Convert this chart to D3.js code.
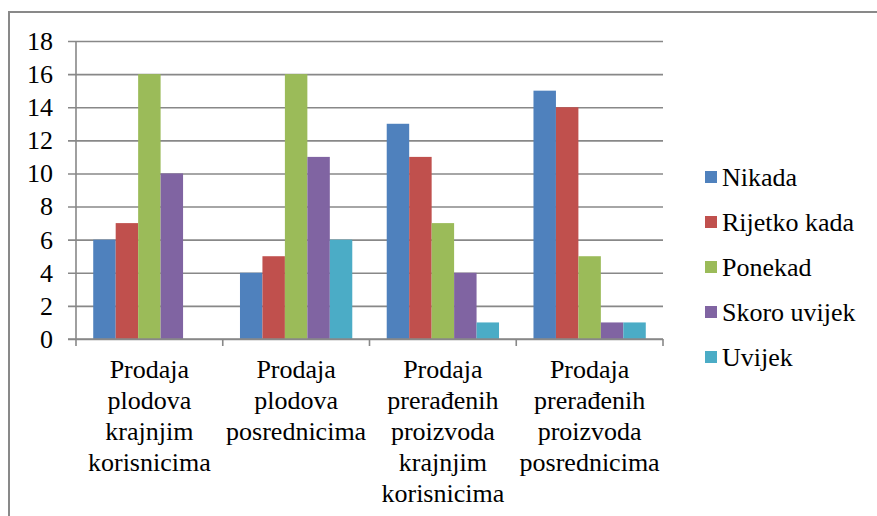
<!DOCTYPE html>
<html>
<head>
<meta charset="utf-8">
<script src="https://cdnjs.cloudflare.com/ajax/libs/d3/7.8.5/d3.min.js"></script>
<style>
  @font-face { font-family: "ChartSerif"; src: local("Liberation Serif"), local("LiberationSerif"), local("LiberationSerif-Regular"), local("Times New Roman"), local("Tinos"); }
  svg text { font-family: "Liberation Serif", "ChartSerif" !important; }
</style>
</head>
<body style="margin:0">
<svg id="chart" width="877" height="516" style="display:block;background:#fff"></svg>
<script>
const categories = [
  ["Prodaja", "plodova", "krajnjim", "korisnicima"],
  ["Prodaja", "plodova", "posrednicima"],
  ["Prodaja", "prerađenih", "proizvoda", "krajnjim", "korisnicima"],
  ["Prodaja", "prerađenih", "proizvoda", "posrednicima"]
];
const seriesNames = ["Nikada", "Rijetko kada", "Ponekad", "Skoro uvijek", "Uvijek"];
const seriesColors = ["#4F81BD", "#C0504D", "#9BBB59", "#8064A2", "#4BACC6"];
const nikada = [6, 4, 13, 15];
const rijetkoKada = [7, 5, 11, 14];
const ponekad = [16, 16, 7, 5];
const skoroUvijek = [10, 11, 4, 1];
const uvijek = [0, 6, 1, 1];
const yTicks = [0, 2, 4, 6, 8, 10, 12, 14, 16, 18];

const seriesValues = [nikada, rijetkoKada, ponekad, skoroUvijek, uvijek];
const catKeys = categories.map((c, i) => "c" + i);

const svg = d3.select("#chart");
const FONT = 26;

function serif(sel) {
  return sel.style("font-family", '"Liberation Serif"').attr("font-size", FONT).attr("fill", "#000");
}

// frame
svg.append("path")
  .attr("d", "M9,516 L9,12 L877,12")
  .attr("fill", "none").attr("stroke", "#898989").attr("stroke-width", 2);

const plotL = 76, plotR = 663, plotT = 41, plotB = 339;
const y = d3.scaleLinear().domain([0, 18]).range([plotB, plotT]);
const x0 = d3.scaleBand().domain(catKeys).range([plotL, plotR]).padding(0);
const x1 = d3.scaleBand().domain(seriesNames).range([0, x0.bandwidth()]).paddingInner(0).paddingOuter(0.767);

// gridlines (no text from axis generator; labels drawn separately)
const yAxis = d3.axisLeft(y).tickValues(yTicks).tickSize(-(plotR - plotL)).tickSizeOuter(0).tickFormat("");
const gy = svg.append("g").attr("transform", `translate(${plotL},0)`).call(yAxis);
gy.attr("font-family", null).attr("font-size", null);
gy.select(".domain").remove();
gy.selectAll(".tick text").remove();
gy.selectAll(".tick line").attr("stroke", "#888").attr("stroke-width", 1.6).attr("x1", -8);

// y labels
serif(svg.append("g").selectAll("text").data(yTicks).enter().append("text"))
  .attr("x", plotL - 23).attr("y", d => y(d)).attr("dy", "0.34em")
  .attr("text-anchor", "end").text(d => d);

// bars
const gBars = svg.append("g");
seriesNames.forEach((s, si) => {
  gBars.selectAll(null)
    .data(seriesValues[si].map((v, ci) => ({ v, ci })))
    .enter().append("rect")
    .attr("x", d => x0(catKeys[d.ci]) + x1(s))
    .attr("width", x1.bandwidth())
    .attr("y", d => y(d.v))
    .attr("height", d => plotB - y(d.v))
    .attr("fill", seriesColors[si]);
});

// y axis line
svg.append("line").attr("x1", plotL).attr("x2", plotL).attr("y1", plotT).attr("y2", plotB)
  .attr("stroke", "#888").attr("stroke-width", 1.6);

// x axis
const xAxisG = svg.append("g");
xAxisG.append("line").attr("x1", plotL - 8).attr("x2", plotR).attr("y1", plotB).attr("y2", plotB)
  .attr("stroke", "#888").attr("stroke-width", 1.6);
const boundaries = catKeys.map(k => x0(k)).concat([x0(catKeys[catKeys.length - 1]) + x0.bandwidth()]);
xAxisG.selectAll("line.tk").data(boundaries).enter().append("line")
  .attr("class", "tk")
  .attr("x1", d => d).attr("x2", d => d).attr("y1", plotB).attr("y2", plotB + 7)
  .attr("stroke", "#888").attr("stroke-width", 1.6);

// category labels (one text element per line)
categories.forEach((lines, ci) => {
  const cx = x0(catKeys[ci]) + x0.bandwidth() / 2;
  lines.forEach((ln, li) => {
    serif(svg.append("text")).attr("text-anchor", "middle")
      .attr("x", cx).attr("y", 378 + li * 31).text(ln);
  });
});

// legend
const lg = svg.append("g");
seriesNames.forEach((s, si) => {
  const by = 186 + si * 45;
  lg.append("rect").attr("x", 705).attr("y", by - 15).attr("width", 12).attr("height", 12).attr("fill", seriesColors[si]);
  serif(lg.append("text").attr("x", 722).attr("y", by)).text(s);
});
</script>
</body>
</html>
